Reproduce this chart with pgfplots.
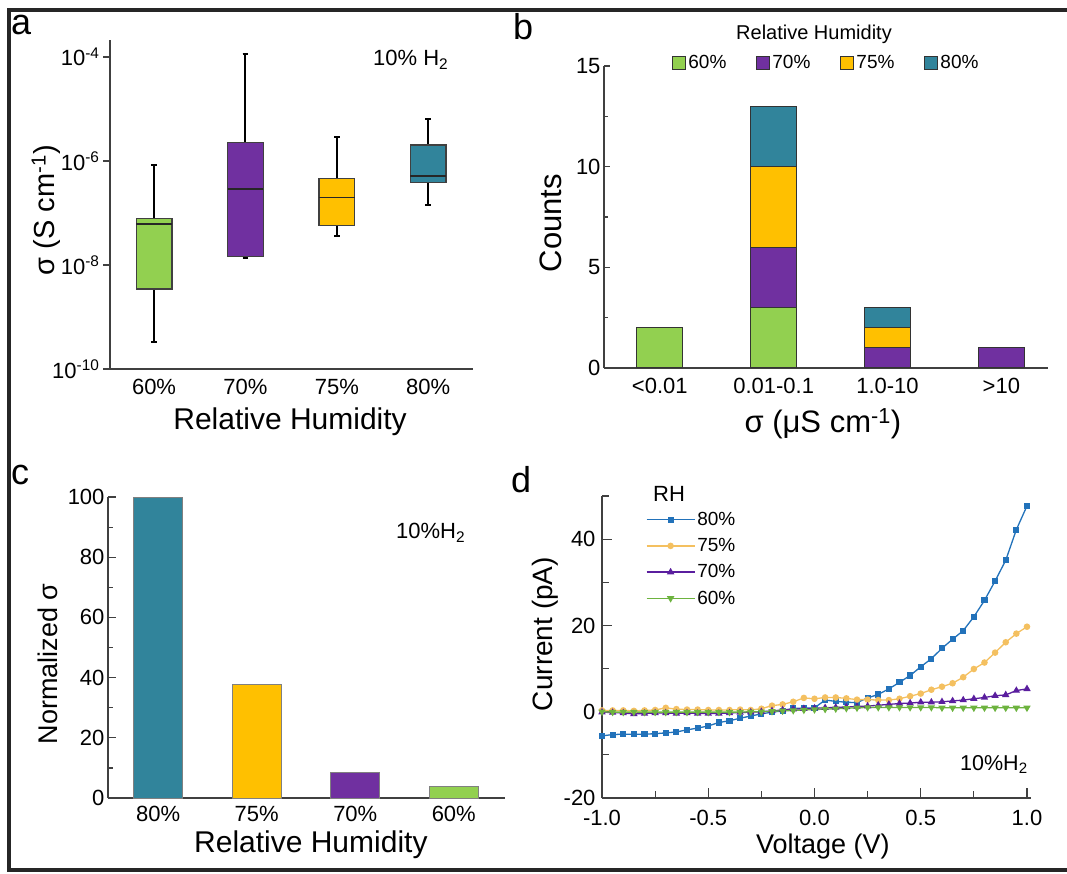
\documentclass[border=0pt]{standalone}
\usepackage{fontspec}
\setmainfont{Liberation Sans}
\usepackage{pgfplots}
\pgfplotsset{compat=1.18}
\usepgfplotslibrary{statistics}

\definecolor{cg}{HTML}{92D050}
\definecolor{cp}{HTML}{7030A0}
\definecolor{cy}{HTML}{FFC000}
\definecolor{ct}{HTML}{31849B}
\definecolor{dblue}{HTML}{2272BA}
\definecolor{dyel}{HTML}{F4C060}
\definecolor{dpur}{HTML}{5A1E9E}
\definecolor{dgrn}{HTML}{6DB33F}
\definecolor{axgray}{HTML}{404040}

\newcommand{\fs}[1]{\fontsize{#1}{#1}\selectfont}

\pgfplotsset{
  common/.style={
    scale only axis,
    enlargelimits=false,
    axis line style={axgray, line width=1.4pt},
    tick style={axgray, line width=1.2pt},
    tick label style={font=\fs{22}},
    /pgf/number format/assume math mode=true,
    axis x line*=bottom, axis y line*=left,
  }
}

\begin{document}
\begin{tikzpicture}
\useasboundingbox (0pt,0pt) rectangle (1067pt,873pt);

% ---------------- panel a (y values are log10 of sigma in S/cm) ----------------
\begin{axis}[common,
  at={(110pt,504pt)}, anchor=south west, width=363pt, height=329pt,
  ymin=-10, ymax=-3.673, xmin=0.518, xmax=4.49,
  xtick={1,2,3,4}, xticklabels={60\%,70\%,75\%,80\%},
  major x tick style={draw=none},
  xticklabel style={yshift=-7pt},
  ytick={-10,-8,-6,-4},
  yticklabels={10\textsuperscript{-10},10\textsuperscript{-8},10\textsuperscript{-6},10\textsuperscript{-4}},
  ytick align=outside, major tick length=7pt,
  xlabel={Relative Humidity}, ylabel={σ (S cm\textsuperscript{-1})},
  xlabel style={font=\fs{30}, at={(axis description cs:0.496,-0.161)}, anchor=center},
  ylabel style={font=\fs{29}, at={(axis description cs:-0.176,0.483)}, anchor=center},
  boxplot/draw direction=y,
  boxplot/box extend=0.39, boxplot/whisker extend=0.06,
  boxplot/every whisker/.style={black, line width=2pt},
  boxplot/every median/.style={black!85, line width=1.6pt},
  boxplot/every box/.style={draw=axgray, line width=1.3pt},
]
\addplot[boxplot prepared={lower whisker=-9.49, lower quartile=-8.46, median=-7.21, upper quartile=-7.10, upper whisker=-6.08, draw position=1}, fill=cg, draw=axgray] coordinates {};
\addplot[boxplot prepared={lower whisker=-7.87, lower quartile=-7.83, median=-6.54, upper quartile=-5.65, upper whisker=-3.94, draw position=2}, fill=cp, draw=axgray] coordinates {};
\addplot[boxplot prepared={lower whisker=-7.44, lower quartile=-7.24, median=-6.70, upper quartile=-6.33, upper whisker=-5.53, draw position=3}, fill=cy, draw=axgray] coordinates {};
\addplot[boxplot prepared={lower whisker=-6.85, lower quartile=-6.42, median=-6.29, upper quartile=-5.69, upper whisker=-5.19, draw position=4}, fill=ct, draw=axgray] coordinates {};
\end{axis}

% ---------------- panel b ----------------
\begin{axis}[common,
  at={(604pt,505pt)}, anchor=south west, width=444pt, height=302pt,
  ybar stacked, bar width=46pt,
  xmin=-0.49, xmax=3.41, ymin=0, ymax=15,
  xtick={0,1,2,3}, xticklabels={<0.01,0.01-0.1,1.0-10,>10},
  major x tick style={draw=none},
  xticklabel style={yshift=-7pt},
  ytick={0,5,10,15}, minor ytick={2.5,7.5,12.5},
  tick align=inside, major tick length=6pt, minor tick length=4pt,
  xlabel={σ (μS cm\textsuperscript{-1})}, ylabel={Counts},
  xlabel style={font=\fs{31}, at={(axis description cs:0.493,-0.185)}, anchor=center},
  ylabel style={font=\fs{31}, at={(axis description cs:-0.119,0.48)}, anchor=center},
  legend columns=4,
  legend style={at={(axis description cs:0.501,1.01)}, anchor=center, draw=none, fill=none,
    font=\fs{19}, /tikz/every even column/.append style={column sep=28pt}},
  every axis plot post/.append style={legend image code/.code={\draw[#1] (0pt,-6.5pt) rectangle (13pt,6.5pt);}},
]
\addplot[fill=cg, draw=black!80, line width=1pt] coordinates {(0,2) (1,3) (2,0) (3,0)};
\addlegendentry{60\%}
\addplot[fill=cp, draw=black!80, line width=1pt] coordinates {(0,0) (1,3) (2,1) (3,1)};
\addlegendentry{70\%}
\addplot[fill=cy, draw=black!80, line width=1pt] coordinates {(0,0) (1,4) (2,1) (3,0)};
\addlegendentry{75\%}
\addplot[fill=ct, draw=black!80, line width=1pt] coordinates {(0,0) (1,3) (2,1) (3,0)};
\addlegendentry{80\%}
\end{axis}

% ---------------- panel c ----------------
\begin{axis}[common,
  at={(108pt,75pt)}, anchor=south west, width=397pt, height=301pt,
  ybar, bar width=49pt,
  xmin=-0.51, xmax=3.52, ymin=0, ymax=100,
  xtick={0,1,2,3}, xticklabels={80\%,75\%,70\%,60\%},
  major x tick style={draw=none},
  xticklabel style={yshift=-5pt},
  ytick={0,20,...,100}, minor ytick={10,30,...,90},
  tick align=inside, major tick length=8pt, minor tick length=5pt,
  xlabel={Relative Humidity}, ylabel={Normalized σ},
  xlabel style={font=\fs{30}, at={(axis description cs:0.511,-0.156)}, anchor=center},
  ylabel style={font=\fs{27}, at={(axis description cs:-0.151,0.445)}, anchor=center},
]
\addplot[fill=ct, draw=gray, line width=1pt, bar shift=0pt] coordinates {(0,100)};
\addplot[fill=cy, draw=gray, line width=1pt, bar shift=0pt] coordinates {(1,37.8)};
\addplot[fill=cp, draw=gray, line width=1pt, bar shift=0pt] coordinates {(2,8.4)};
\addplot[fill=cg, draw=gray, line width=1pt, bar shift=0pt] coordinates {(3,3.75)};
\end{axis}

% ---------------- panel d ----------------
\begin{axis}[common,
  at={(602pt,75pt)}, anchor=south west, width=429pt, height=302pt,
  xmin=-1, xmax=1.019, ymin=-20, ymax=50,
  xtick={-1,-0.5,0,0.5,1}, minor xtick={-0.75,-0.25,0.25,0.75},
  ytick={-20,0,20,40}, minor ytick={-10,10,30,50},
  tick align=inside, major tick length=10pt, minor tick length=7pt,
  xticklabel style={yshift=-9pt, /pgf/number format/.cd, fixed, fixed zerofill, precision=1},
  yticklabel style={xshift=-3pt},
  xlabel={Voltage (V)}, ylabel={Current (pA)},
  xlabel style={font=\fs{27}, at={(axis description cs:0.515,-0.162)}, anchor=center},
  ylabel style={font=\fs{28}, at={(axis description cs:-0.133,0.543)}, anchor=center},
  legend style={at={(axis description cs:0.095,0.96)}, anchor=north west, draw=none, fill=none,
    font=\fs{19}, row sep=7.5pt},
  legend cell align=left,
  legend image code/.code={\draw[mark repeat=2, mark phase=2, #1] plot coordinates {(0pt,0pt) (24pt,0pt) (48pt,0pt)};},
]
\addplot[dblue, line width=1.3pt, mark=square*, mark size=2.4pt] coordinates {
(-1.00,-5.6) (-0.95,-5.3) (-0.90,-5.2) (-0.85,-5.2) (-0.80,-5.2) (-0.75,-5.1) (-0.70,-4.9)
(-0.65,-4.7) (-0.60,-4.2) (-0.55,-3.8) (-0.50,-3.3) (-0.45,-2.5) (-0.40,-2.1) (-0.35,-1.5)
(-0.30,-1.0) (-0.25,-0.5) (-0.20,-0.1) (-0.15,0.2) (-0.10,0.8) (-0.05,0.8) (0.00,0.9)
(0.05,2.7) (0.10,2.4) (0.15,2.2) (0.20,2.1) (0.25,3.2) (0.30,4.0) (0.35,5.3) (0.40,6.8)
(0.45,8.4) (0.50,10.4) (0.55,12.3) (0.60,14.7) (0.65,16.8) (0.70,18.8) (0.75,22.0)
(0.80,25.8) (0.85,30.3) (0.90,35.1) (0.95,42.2) (1.00,47.7)};
\addlegendentry{80\%}
\addplot[dyel, line width=1.3pt, mark=*, mark size=2.6pt] coordinates {
(-1.00,0.3) (-0.95,0.3) (-0.90,0.3) (-0.85,0.2) (-0.80,0.3) (-0.75,0.4) (-0.70,0.9)
(-0.65,0.6) (-0.60,0.5) (-0.55,0.5) (-0.50,0.4) (-0.45,0.4) (-0.40,0.4) (-0.35,0.5)
(-0.30,0.4) (-0.25,0.7) (-0.20,1.4) (-0.15,1.7) (-0.10,2.3) (-0.05,3.2) (0.00,3.0)
(0.05,3.3) (0.10,3.3) (0.15,3.1) (0.20,2.8) (0.25,2.8) (0.30,2.7) (0.35,2.7) (0.40,3.0)
(0.45,3.6) (0.50,4.2) (0.55,5.1) (0.60,5.8) (0.65,6.6) (0.70,8.0) (0.75,9.9)
(0.80,11.4) (0.85,13.7) (0.90,16.1) (0.95,18.1) (1.00,19.7)};
\addlegendentry{75\%}
\addplot[dpur, line width=1.3pt, mark=triangle*, mark size=3pt] coordinates {
(-1.00,-0.1) (-0.95,-0.2) (-0.90,-0.3) (-0.85,-0.5) (-0.80,-0.4) (-0.75,-0.3) (-0.70,-0.3)
(-0.65,-0.4) (-0.60,-0.3) (-0.55,-0.4) (-0.50,-0.4) (-0.45,-0.4) (-0.40,-0.3) (-0.35,-0.2)
(-0.30,-0.1) (-0.25,0.0) (-0.20,0.2) (-0.15,0.4) (-0.10,0.6) (-0.05,0.7) (0.00,0.8)
(0.05,0.9) (0.10,1.0) (0.15,1.1) (0.20,1.2) (0.25,1.3) (0.30,1.5) (0.35,1.7) (0.40,1.9)
(0.45,2.0) (0.50,2.2) (0.55,2.2) (0.60,2.3) (0.65,2.5) (0.70,2.7) (0.75,3.0)
(0.80,3.3) (0.85,3.7) (0.90,3.9) (0.95,4.9) (1.00,5.3)};
\addlegendentry{70\%}
\addplot[dgrn, line width=1.3pt, mark=triangle*, mark size=3pt, mark options={rotate=180}] coordinates {
(-1.00,0.0) (-0.95,-0.1) (-0.90,-0.1) (-0.85,-0.1) (-0.80,-0.1) (-0.75,-0.1) (-0.70,-0.1)
(-0.65,-0.1) (-0.60,-0.1) (-0.55,-0.1) (-0.50,-0.1) (-0.45,-0.1) (-0.40,-0.1) (-0.35,-0.1)
(-0.30,0.0) (-0.25,0.0) (-0.20,0.1) (-0.15,0.2) (-0.10,0.3) (-0.05,0.4) (0.00,0.5)
(0.05,0.6) (0.10,0.7) (0.15,0.8) (0.20,0.9) (0.25,1.0) (0.30,1.0) (0.35,1.0) (0.40,1.0)
(0.45,1.0) (0.50,1.0) (0.55,1.0) (0.60,0.9) (0.65,0.9) (0.70,0.9) (0.75,0.9)
(0.80,0.9) (0.85,0.9) (0.90,0.9) (0.95,0.9) (1.00,0.9)};
\addlegendentry{60\%}
\end{axis}

% ---------------- annotations ----------------
\node[anchor=base west, font=\fs{22}, inner sep=0pt] at (373pt,807pt) {10\% H\textsubscript{2}};
\node[anchor=base, font=\fs{20}] at (814pt,833pt) {Relative Humidity};
\node[anchor=base west, font=\fs{22}, inner sep=0pt] at (396pt,334pt) {10\%H\textsubscript{2}};
\node[anchor=base west, font=\fs{21.5}, inner sep=0pt] at (960pt,103pt) {10\%H\textsubscript{2}};
\node[anchor=base west, font=\fs{22}, inner sep=0pt] at (653pt,371pt) {RH};

\node[anchor=base west, font=\fs{36}, inner sep=0pt] at (11pt,838pt) {a};
\node[anchor=base west, font=\fs{36}, inner sep=0pt] at (513pt,833pt) {b};
\node[anchor=base west, font=\fs{36}, inner sep=0pt] at (11pt,388pt) {c};
\node[anchor=base west, font=\fs{36}, inner sep=0pt] at (511pt,380pt) {d};

\draw[line width=3.5pt, black!85] (1067pt,863pt) -- (9pt,863pt) -- (9pt,3pt) -- (1067pt,3pt);
\end{tikzpicture}
\end{document}
